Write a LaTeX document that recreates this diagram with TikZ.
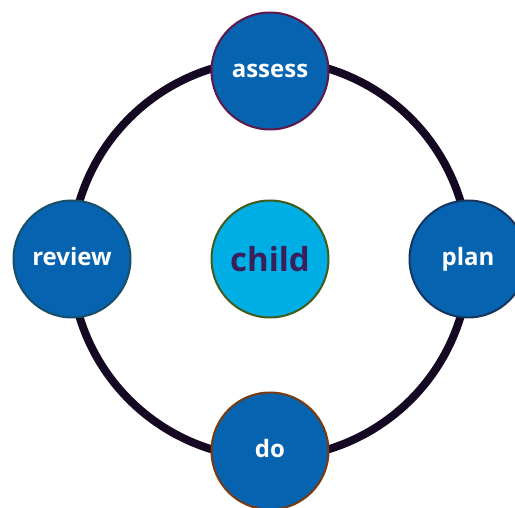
\documentclass[tikz,border=0pt]{standalone}
\usepackage{fontspec}
\setmainfont{Open Sans}
\usepackage{xcolor}
\usetikzlibrary{positioning, backgrounds}

\definecolor{stageblue}{RGB}{5,99,176}
\definecolor{childcyan}{RGB}{0,174,230}
\definecolor{childtext}{RGB}{58,31,93}
\definecolor{ringdark}{RGB}{20,8,34}
\definecolor{edgeassess}{RGB}{96,24,72}
\definecolor{edgechild}{RGB}{66,90,24}
\definecolor{edgereview}{RGB}{24,78,104}
\definecolor{edgeplan}{RGB}{22,52,96}
\definecolor{edgedo}{RGB}{122,58,14}

\tikzset{
  stage/.style={circle, draw, line width=2pt, fill=stageblue,
                minimum size=117pt, inner sep=0pt, text=white,
                text height=18pt, text depth=5pt,
                font=\fontsize{24}{28}\selectfont\bfseries},
  hub/.style={circle, draw=edgechild, line width=2pt, fill=childcyan,
              minimum size=117pt, inner sep=0pt, text=childtext,
              font=\fontsize{33}{38}\selectfont\bfseries},
  ring/.style={draw=ringdark, line width=8pt},
}

\begin{document}
\begin{tikzpicture}[x=1pt, y=1pt, on grid]
  \useasboundingbox (0,0) rectangle (515,-508);

  \node[hub] (child) at (270,-259) {child};
  \node[stage, draw=edgeassess, above=188pt of child] (assess) {assess};
  \node[stage, draw=edgereview, left=198pt of child] (review) {review};
  \node[stage, draw=edgeplan, right=198pt of child] (plan) {plan};
  \node[stage, draw=edgedo, below=192pt of child] (do) {do};

  % cycle ring behind the stages
  \begin{scope}[on background layer]
    \draw[ring] (child.center) circle[radius=199pt];
  \end{scope}
\end{tikzpicture}
\end{document}
